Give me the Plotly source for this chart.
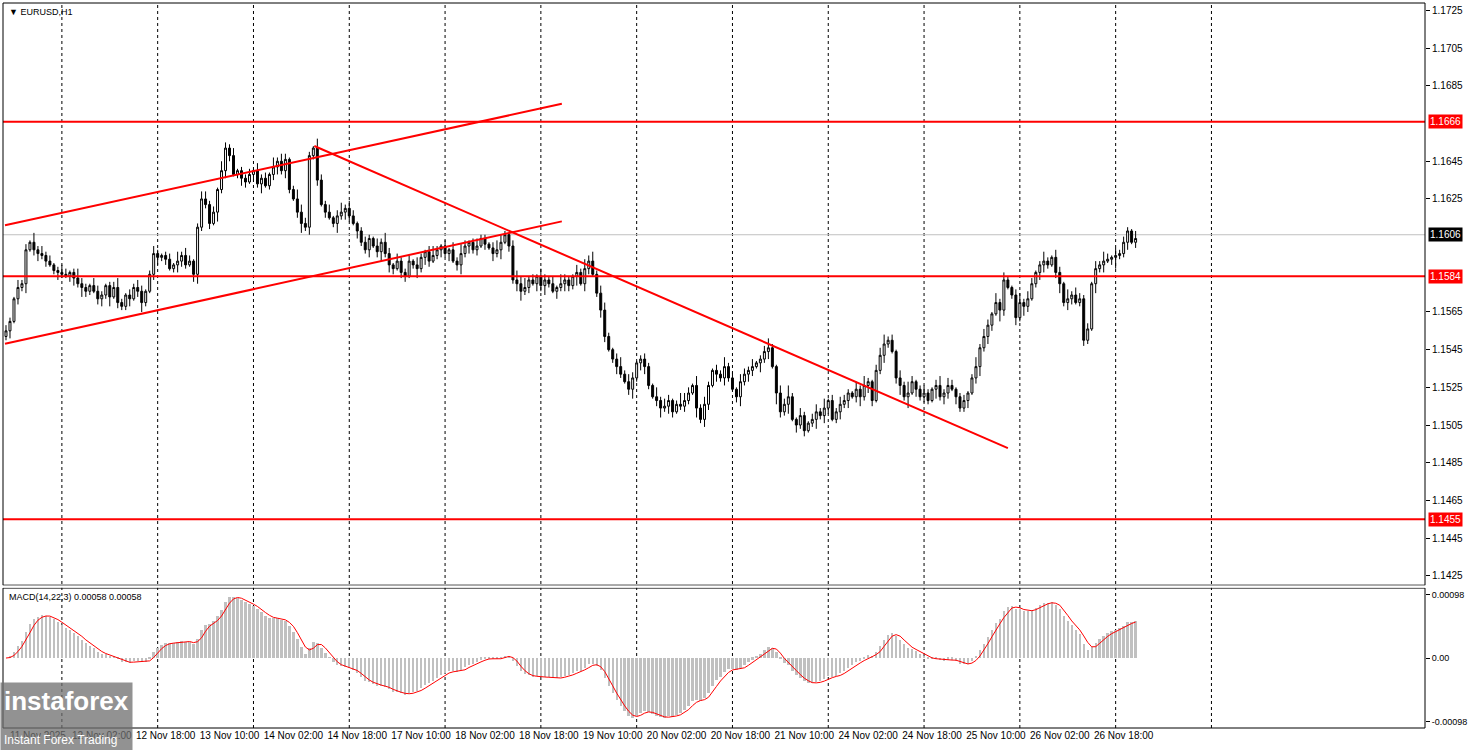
import numpy as np
import plotly.graph_objects as go

# ---- data (prices, closes in pips above 1.1500) ----
close_pips = [
    55, 60, 72, 78, 80, 98, 102, 98, 96, 95,
    92, 90, 87, 86, 85, 84, 86, 83, 80, 78,
    76, 79, 76, 72, 74, 79, 73, 78, 70, 68,
    74, 72, 78, 76, 70, 76, 85, 96, 94, 95,
    93, 88, 90, 92, 95, 90, 92, 85, 110, 125,
    122, 112, 118, 130, 140, 152, 148, 138, 140, 136,
    134, 138, 140, 133, 136, 132, 138, 142, 145, 140,
    146, 130, 125, 118, 112, 110, 148, 152, 135, 122,
    118, 115, 112, 116, 118, 120, 116, 112, 108, 102,
    98, 104, 100, 97, 102, 96, 90, 88, 92, 86,
    84, 92, 90, 88, 94, 97, 92, 95, 98, 100,
    96, 98, 92, 90, 96, 100, 102, 98, 100, 104,
    101, 99, 96, 98, 102, 106, 100, 82, 80, 76,
    78, 82, 80, 84, 79, 82, 80, 76, 78, 80,
    82, 79, 84, 86, 80, 88, 92, 85, 75, 66,
    52, 45, 40, 36, 32, 28, 24, 30, 38, 40,
    36, 26, 20, 18, 14, 15, 18, 12, 16, 15,
    18, 22, 26, 14, 8, 16, 26, 34, 32, 30,
    36, 30, 24, 20, 28, 32, 34, 36, 38, 40,
    44, 46, 36, 22, 12, 16, 20, 8, 5, 10,
    2, 6, 8, 12, 10, 14, 18, 8, 12, 16,
    18, 22, 20, 24, 20, 26, 28, 18, 34, 42,
    48, 50, 44, 30, 26, 20, 22, 28, 24, 20,
    22, 18, 24, 26, 20, 22, 26, 24, 20, 14,
    18, 22, 30, 36, 46, 52, 58, 64, 70, 66,
    82, 78, 74, 62, 70, 68, 72, 80, 86, 90,
    92, 90, 94, 86, 80, 70, 72, 74, 70, 72,
    50, 56, 80, 88, 90, 92, 93, 94, 95, 96,
    102, 108, 102, 104,
]
first_open_pips = 52
# wick lengths in pips, one digit per bar
upper_wicks = (
    "3214231524" "2312431253" "2143212352" "1324312421" "2315243124"
    "4231532412" "2314231524" "3125432153" "2413524312" "3214253142"
    "2314213521" "3142531242" "2135421354" "5231432415" "3214253524"
    "4213524312" "3215243126" "4315242132" "5231432412" "3521436214"
    "2134251324" "3214252134" "5231426312" "4213524312" "3125243152"
    "4213524312" "5214315243" "2314253142" "3214231524"
)
lower_wicks = (
    "2413251342" "3124213425" "3213425132" "2413521342" "3124321452"
    "2315243124" "3142512342" "4213524231" "3125243142" "2413524313"
    "3125243124" "2413524231" "3142513245" "2314352142" "4325143124"
    "3124213524" "4213524312" "3215243142" "4213524315" "2416325142"
    "3125243124" "2413524312" "4213526142" "3215243142" "2413524316"
    "3124253124" "4213524312" "3215241362" "2413524312"
)

levels_red = [1.1666, 1.1584, 1.1455]
last_price = 1.1606

# trend lines: (bar index, price) pairs
channel_upper = [(-0.25, 1.16110), (139.25, 1.16755)]
channel_lower = [(-0.25, 1.15481), (139.25, 1.16131)]
downtrend = [(77.25, 1.16531), (251.0, 1.14927)]

label_idx = [0, 16, 32, 48, 64, 80, 96, 112, 128, 144, 160, 176, 192, 208, 224, 240, 256, 272]
label_text = ["11 Nov 2025", "12 Nov 02:00", "12 Nov 18:00", "13 Nov 10:00", "14 Nov 02:00",
              "14 Nov 18:00", "17 Nov 10:00", "18 Nov 02:00", "18 Nov 18:00", "19 Nov 10:00",
              "20 Nov 02:00", "20 Nov 18:00", "21 Nov 10:00", "24 Nov 02:00", "24 Nov 18:00",
              "25 Nov 10:00", "26 Nov 02:00", "26 Nov 18:00"]
day_idx = [14, 38, 62, 86, 110, 134, 158, 182, 206, 230, 254, 278, 302]
price_ticks = [1.1725, 1.1705, 1.1685, 1.1645, 1.1625, 1.1565, 1.1545, 1.1525,
               1.1505, 1.1485, 1.1465, 1.1445, 1.1425]

# ---- build OHLC ----
n = len(close_pips)
closes = 1.15 + np.array(close_pips) / 10000.0
opens = np.concatenate([[1.15 + first_open_pips / 10000.0], closes[:-1]])
up = np.array([int(c) for c in upper_wicks[:n]]) / 10000.0
dn = np.array([int(c) for c in lower_wicks[:n]]) / 10000.0
highs = np.maximum(opens, closes) + up
lows = np.minimum(opens, closes) - dn
x = np.arange(n)


def ema(v, p):
    out = np.zeros_like(v)
    k = 2.0 / (p + 1)
    out[0] = v[0]
    for i in range(1, len(v)):
        out[i] = v[i] * k + out[i - 1] * (1 - k)
    return out


macd = ema(closes, 14) - ema(closes, 22)
signal = np.convolve(macd, np.ones(3) / 3, mode="full")[:n]

FONT = "Liberation Sans"
fig = go.Figure()

fig.add_trace(go.Candlestick(
    x=x, open=opens, high=highs, low=lows, close=closes,
    increasing=dict(line=dict(color="black", width=1), fillcolor="white"),
    decreasing=dict(line=dict(color="black", width=1), fillcolor="black"),
    whiskerwidth=0, showlegend=False, hoverinfo="skip",
    xaxis="x", yaxis="y",
))

for line in (channel_upper, channel_lower, downtrend):
    fig.add_trace(go.Scatter(
        x=[p[0] for p in line], y=[p[1] for p in line], mode="lines",
        line=dict(color="#ff0000", width=2), showlegend=False, hoverinfo="skip",
        xaxis="x", yaxis="y",
    ))

fig.add_trace(go.Bar(
    x=x, y=macd, marker=dict(color="#c0c0c0", line=dict(width=0)),
    width=0.6, showlegend=False, hoverinfo="skip", xaxis="x", yaxis="y2",
))
fig.add_trace(go.Scatter(
    x=x, y=signal, mode="lines", line=dict(color="#ff0000", width=1),
    showlegend=False, hoverinfo="skip", xaxis="x", yaxis="y2",
))

shapes = []
for d in day_idx:
    shapes.append(dict(type="line", xref="x", yref="paper", x0=d, x1=d, y0=0, y1=1,
                       line=dict(color="black", width=1, dash="3px,3px"), layer="below"))
for lv in levels_red:
    shapes.append(dict(type="line", xref="paper", yref="y", x0=0, x1=1, y0=lv, y1=lv,
                       line=dict(color="#ff0000", width=2)))
shapes.append(dict(type="line", xref="paper", yref="y", x0=0, x1=1, y0=last_price, y1=last_price,
                   line=dict(color="#c0c0c0", width=1), layer="below"))
# pane frames
shapes.append(dict(type="rect", xref="paper", yref="paper", x0=0, x1=1, y0=0.197, y1=1,
                   line=dict(color="black", width=1)))
shapes.append(dict(type="rect", xref="paper", yref="paper", x0=0, x1=1, y0=0, y1=0.193,
                   line=dict(color="black", width=1)))
# gap between panes
shapes.append(dict(type="rect", xref="paper", yref="paper", x0=0, x1=1, y0=0.1935, y1=0.1965,
                   fillcolor="white", line=dict(width=0)))

annotations = []
for lv in levels_red:
    annotations.append(dict(xref="paper", yref="y", x=1.002, y=lv, xanchor="left",
                            text=f"{lv:.4f}", showarrow=False, bgcolor="#ff0000",
                            font=dict(color="white", size=10, family=FONT), borderpad=1))
annotations.append(dict(xref="paper", yref="y", x=1.002, y=last_price, xanchor="left",
                        text=f"{last_price:.4f}", showarrow=False, bgcolor="black",
                        font=dict(color="white", size=10, family=FONT), borderpad=1))
annotations.append(dict(xref="paper", yref="paper", x=0.003, y=0.997, xanchor="left", yanchor="top",
                        text="▼ EURUSD,H1", showarrow=False,
                        font=dict(color="black", size=9, family=FONT)))
annotations.append(dict(xref="paper", yref="paper", x=0.003, y=0.19, xanchor="left", yanchor="top",
                        text=f"MACD(14,22,3) {0.00058:.5f} {0.00058:.5f}", showarrow=False,
                        font=dict(color="black", size=9, family=FONT)))
annotations.append(dict(xref="paper", yref="paper", x=-0.002, y=-0.032, xanchor="left", yanchor="bottom",
                        text="<b>instaforex</b><br><span style='font-size:12px'>Instant Forex Trading</span>",
                        showarrow=False, align="left", bgcolor="rgba(110,110,110,0.75)",
                        font=dict(color="white", size=26, family=FONT), borderpad=3))

fig.update_layout(
    width=1468, height=750,
    margin=dict(l=3, r=43, t=3, b=22, autoexpand=False),
    paper_bgcolor="white", plot_bgcolor="white",
    shapes=shapes, annotations=annotations,
    bargap=0,
    xaxis=dict(range=[-0.75, 355.5], rangeslider=dict(visible=False), showgrid=False,
               zeroline=False, tickvals=[i + 8 for i in label_idx], ticktext=label_text,
               ticks="", tickfont=dict(size=10, family=FONT, color="black"), anchor="y2"),
    yaxis=dict(domain=[0.197, 1.0], range=[1.1420, 1.1729], side="right", showgrid=False,
               zeroline=False, tickvals=price_ticks, tickformat=".4f", ticks="outside",
               ticklen=4, tickcolor="black", tickfont=dict(size=10, family=FONT, color="black")),
    yaxis2=dict(domain=[0.0, 0.193], range=[-0.00108, 0.00108], side="right", showgrid=False,
                zeroline=False, tickvals=[0.00098, 0.0, -0.00098],
                ticktext=["0.00098", "0.00", "-0.00098"], ticks="outside", ticklen=4,
                tickcolor="black", tickfont=dict(size=9, family=FONT, color="black")),
)

fig.write_html("out.html", config={"displayModeBar": False},
               post_script="document.body.style.margin='0';")
